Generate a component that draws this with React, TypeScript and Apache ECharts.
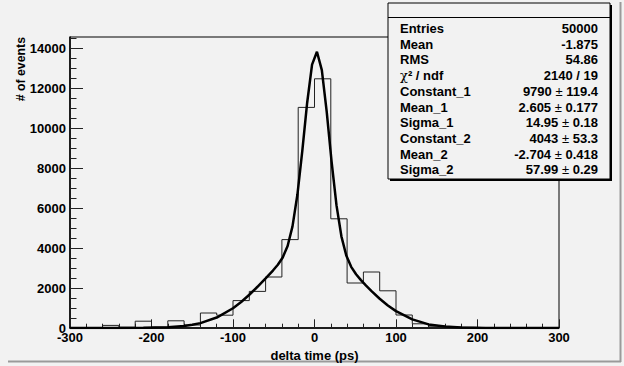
import React, { useEffect, useRef } from "react";
import * as echarts from "echarts";

// Histogram: lower bin edges (width 20) and counts
const binLow = [-300, -280, -260, -240, -220, -200, -180, -160, -140, -120, -100, -80, -60, -40, -20, 0, 20, 40, 60, 80, 100, 120, 140, 160, 180, 200, 220, 240, 260, 280];
const binCounts = [0, 20, 130, 40, 340, 40, 360, 150, 750, 640, 1370, 1830, 2550, 4420, 11030, 12460, 5460, 2250, 2800, 1860, 650, 210, 90, 40, 30, 10, 0, 10, 0, 0];
const binWidth = 20;

// Fit curve
const fitX = [-300, -270, -240, -210, -180, -160, -150, -140, -120, -100, -90, -80, -70, -60, -51, -45, -39, -33, -27, -21, -15, -9, -3, 3, 9, 15, 21, 27, 33, 39, 45, 51, 57, 63, 70, 80, 90, 100, 120, 140, 160, 180, 210, 240, 270, 300];
const fitY = [0, 0.1, 0.9, 6.8, 38, 102, 161, 245, 523, 989, 1302, 1663, 2062, 2483, 2874, 3160, 3528, 4101, 5081, 6661, 8847, 11263, 13169, 13810, 12895, 10802, 8311, 6131, 4584, 3627, 3058, 2685, 2393, 2128, 1842, 1462, 1127, 843, 431, 179, 79, 28, 4.8, 0.6, 0.1, 0];

// Axis ticks
const xMajor = [-300, -200, -100, 0, 100, 200, 300];
const xMinor = [-280, -260, -240, -220, -180, -160, -140, -120, -80, -60, -40, -20, 20, 40, 60, 80, 120, 140, 160, 180, 220, 240, 260, 280];
const yMajor = [0, 2000, 4000, 6000, 8000, 10000, 12000, 14000];
const yMinor = [500, 1000, 1500, 2500, 3000, 3500, 4500, 5000, 5500, 6500, 7000, 7500, 8500, 9000, 9500, 10500, 11000, 11500, 12500, 13000, 13500, 14500];

// Stats box
const statLabels = ["Entries", "Mean", "RMS", "CHI", "Constant_1", "Mean_1", "Sigma_1", "Constant_2", "Mean_2", "Sigma_2"];
const statValues = ["50000", "-1.875", "54.86", "2140 / 19", "9790|119.4", "2.605|0.177", "14.95|0.18", "4043|53.3", "-2.704|0.418", "57.99|0.29"];

const FONT = "Liberation Sans, Arial, Helvetica, sans-serif";

export default function App() {
  const ref = useRef<HTMLDivElement>(null);
  useEffect(() => {
    if (!ref.current) return;
    const chart = echarts.init(ref.current, null, { renderer: "svg" });

    const histData: number[][] = binLow.map((x, i) => [x, binCounts[i]]);
    histData.push([binLow[binLow.length - 1] + binWidth, binCounts[binCounts.length - 1]]);
    const fitData = fitX.map((x, i) => [x, fitY[i]]);

    const boxX = 388, boxY = 3, boxW = 222, boxH = 176;
    const rowY0 = 28.5, rowStep = 15.7;
    const labelX = 400, valueX = 598;

    const statTexts: any[] = [];
    statLabels.forEach((lab, i) => {
      const y = rowY0 + i * rowStep;
      if (lab === "CHI") {
        statTexts.push({
          type: "text", z: 102,
          style: {
            x: labelX, y, align: "left", verticalAlign: "middle",
            text: "{g|χ}{b|² / ndf}",
            rich: {
              g: { fontFamily: "DejaVu Serif, serif", fontSize: 13, fill: "#000", fontWeight: "normal" },
              b: { fontFamily: FONT, fontSize: 13, fontWeight: "bold", fill: "#000" },
            },
          },
        });
      } else {
        statTexts.push({
          type: "text", z: 102,
          style: { x: labelX, y, align: "left", verticalAlign: "middle", text: lab, fontFamily: FONT, fontSize: 13, fontWeight: "bold", fill: "#000" },
        });
      }
      const v = statValues[i];
      if (v.indexOf("|") >= 0) {
        const [a, b] = v.split("|");
        statTexts.push({
          type: "text", z: 102,
          style: {
            x: valueX, y, align: "right", verticalAlign: "middle",
            text: `{b|${a}}{p| ± }{b|${b}}`,
            rich: {
              b: { fontFamily: FONT, fontSize: 13, fontWeight: "bold", fill: "#000" },
              p: { fontFamily: FONT, fontSize: 13, fontWeight: "normal", fill: "#000" },
            },
          },
        });
      } else {
        statTexts.push({
          type: "text", z: 102,
          style: { x: valueX, y, align: "right", verticalAlign: "middle", text: v, fontFamily: FONT, fontSize: 13, fontWeight: "bold", fill: "#000" },
        });
      }
    });

    const plain = (v: number) => String(v);

    const option: any = {
      animation: false,
      backgroundColor: "#f2f2f2",
      grid: { left: 70, right: 65, top: 37, bottom: 38, show: true, borderColor: "#000", borderWidth: 1, backgroundColor: "transparent" },
      xAxis: [
        {
          type: "value", min: -300, max: 300, position: "bottom",
          axisLine: { show: true, onZero: false, lineStyle: { color: "#000", width: 1.5 } },
          axisTick: { show: true, inside: true, length: 8.7, customValues: xMajor, lineStyle: { color: "#222", width: 1 } },
          axisLabel: { customValues: xMajor, formatter: plain, fontSize: 13, fontWeight: "bold", color: "#000", fontFamily: FONT, margin: 3 },
          splitLine: { show: false },
          minorTick: { show: false },
        },
        {
          type: "value", min: -300, max: 300, position: "bottom",
          axisLine: { show: false, onZero: false },
          axisTick: { show: true, inside: true, length: 4.3, customValues: xMinor, lineStyle: { color: "#222", width: 1 } },
          axisLabel: { show: false },
          splitLine: { show: false },
        },
      ],
      yAxis: [
        {
          type: "value", min: 0, max: 14550, position: "left",
          axisLine: { show: true, onZero: false, lineStyle: { color: "#000", width: 1.5 } },
          axisTick: { show: true, inside: true, length: 13, customValues: yMajor, lineStyle: { color: "#222", width: 1 } },
          axisLabel: { customValues: yMajor, formatter: plain, fontSize: 13, fontWeight: "bold", color: "#000", fontFamily: FONT, margin: 4 },
          splitLine: { show: false },
        },
        {
          type: "value", min: 0, max: 14550, position: "left",
          axisLine: { show: false, onZero: false },
          axisTick: { show: true, inside: true, length: 6.5, customValues: yMinor, lineStyle: { color: "#222", width: 1 } },
          axisLabel: { show: false },
          splitLine: { show: false },
        },
      ],
      series: [
        {
          type: "line", xAxisIndex: 0, yAxisIndex: 0, step: "end", data: histData,
          showSymbol: false, symbol: "none", lineStyle: { color: "#222", width: 1 }, z: 3,
        },
        {
          type: "line", xAxisIndex: 0, yAxisIndex: 0, data: fitData, smooth: false,
          showSymbol: false, symbol: "none", lineStyle: { color: "#000", width: 2.5 }, z: 4,
        },
      ],
      graphic: [
        // canvas border
        { type: "line", z: 50, shape: { x1: 8, y1: 361.5, x2: 621, y2: 361.5 }, style: { stroke: "#9a9a9a", lineWidth: 2 } },
        { type: "line", z: 50, shape: { x1: 620.5, y1: 2, x2: 620.5, y2: 362 }, style: { stroke: "#9a9a9a", lineWidth: 2 } },
        // axis titles
        {
          type: "text", z: 60, x: 21, y: 37, rotation: Math.PI / 2,
          style: { text: "# of events", align: "right", verticalAlign: "middle", fontFamily: FONT, fontSize: 12.3, fontWeight: "bold", fill: "#000" },
        },
        {
          type: "text", z: 60,
          style: { x: 314.5, y: 355, text: "delta time (ps)", align: "center", verticalAlign: "middle", fontFamily: FONT, fontSize: 13, fontWeight: "bold", fill: "#000" },
        },
        // stats box shadow + box
        { type: "rect", z: 100, shape: { x: boxX + 2, y: boxY + 2, width: boxW, height: boxH }, style: { fill: "#000" } },
        { type: "rect", z: 101, shape: { x: boxX, y: boxY, width: boxW, height: boxH }, style: { fill: "#f2f2f2", stroke: "#000", lineWidth: 1 } },
        { type: "line", z: 102, shape: { x1: boxX, y1: 17.5, x2: boxX + boxW, y2: 17.5 }, style: { stroke: "#000", lineWidth: 1 } },
        ...statTexts,
      ],
    };
    chart.setOption(option);
    return () => chart.dispose();
  }, []);

  return (
    <div style={{ position: "fixed", left: 0, top: 0, width: 624, height: 366, margin: 0, padding: 0 }}>
      <div ref={ref} style={{ width: 624, height: 366 }} />
    </div>
  );
}
